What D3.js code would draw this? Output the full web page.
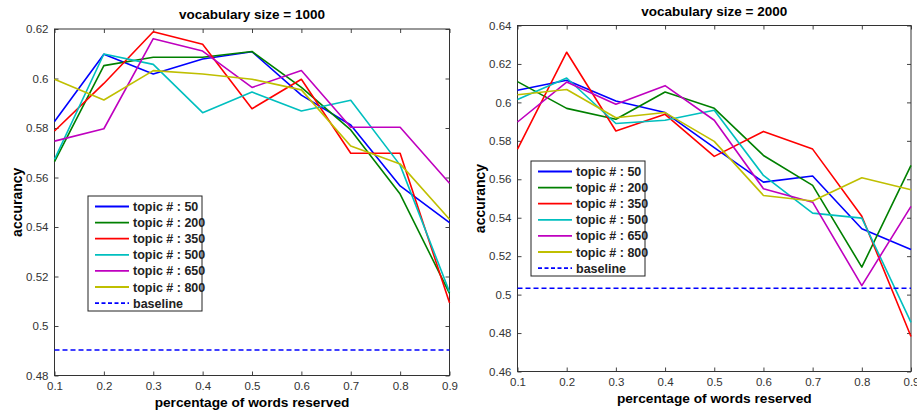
<!DOCTYPE html>
<html lang='en'>
<head>
<meta charset='utf-8'>
<title>accuracy vs percentage of words reserved</title>
<script src='https://d3js.org/d3.v7.min.js'></script>
<style>
  body { margin: 0; background: #fff; }
  text { font-family: Arial, 'Liberation Sans', sans-serif; }
</style>
</head>
<body>
<script>
'use strict'

// shared x values and legend labels
const reserved = [0.1, 0.2, 0.3, 0.4, 0.5, 0.6, 0.7, 0.8, 0.9]
const topicLabels = ['topic # : 50', 'topic # : 200', 'topic # : 350', 'topic # : 500', 'topic # : 650', 'topic # : 800']
const colors = ['#0000ff', '#008000', '#ff0000', '#00bfbf', '#bf00bf', '#bfbf00']

// vocabulary size = 1000
const v1000_t50  = [0.5826, 0.6098, 0.6018, 0.6079, 0.6108, 0.5933, 0.5812, 0.5566, 0.5418]
const v1000_t200 = [0.5664, 0.6052, 0.6086, 0.6086, 0.6109, 0.5964, 0.5792, 0.5533, 0.5132]
const v1000_t350 = [0.5788, 0.5980, 0.6189, 0.6138, 0.5878, 0.5997, 0.5698, 0.5698, 0.5094]
const v1000_t500 = [0.5673, 0.6099, 0.6057, 0.5862, 0.5945, 0.5869, 0.5912, 0.5650, 0.5138]
const v1000_t650 = [0.5747, 0.5797, 0.6161, 0.6111, 0.5964, 0.6032, 0.5803, 0.5803, 0.5577]
const v1000_t800 = [0.5997, 0.5913, 0.6032, 0.6018, 0.5997, 0.5954, 0.5727, 0.5655, 0.5431]
const v1000_baseline = 0.4903
const v1000_yTicks = [0.48, 0.5, 0.52, 0.54, 0.56, 0.58, 0.6, 0.62]

// vocabulary size = 2000
const v2000_t50  = [0.6063, 0.6115, 0.6007, 0.5947, 0.5765, 0.5585, 0.5617, 0.5343, 0.5235]
const v2000_t200 = [0.6108, 0.5969, 0.5912, 0.6054, 0.5969, 0.5724, 0.5568, 0.5143, 0.5672]
const v2000_t350 = [0.5757, 0.6261, 0.5851, 0.5938, 0.5719, 0.5849, 0.5757, 0.5408, 0.4782]
const v2000_t500 = [0.6015, 0.6127, 0.5890, 0.5907, 0.5959, 0.5620, 0.5424, 0.5398, 0.4856]
const v2000_t650 = [0.5898, 0.6106, 0.5990, 0.6087, 0.5907, 0.5551, 0.5481, 0.5047, 0.5459]
const v2000_t800 = [0.6040, 0.6067, 0.5920, 0.5947, 0.5797, 0.5516, 0.5487, 0.5608, 0.5546]
const v2000_baseline = 0.5033
const v2000_yTicks = [0.46, 0.48, 0.5, 0.52, 0.54, 0.56, 0.58, 0.6, 0.62, 0.64]

const xTicks = [0.1, 0.2, 0.3, 0.4, 0.5, 0.6, 0.7, 0.8, 0.9]

const svg = d3.select('body').append('svg')
  .attr('width', 917)
  .attr('height', 412)

svg.append('rect').attr('width', '100%').attr('height', '100%').attr('fill', '#fff')

const fmt = d => String(+d.toFixed(2))

function drawPanel(p)
{
  const g = svg.append('g')
  const x = d3.scaleLinear().domain([0.1, 0.9]).range([p.left, p.right])
  const y = d3.scaleLinear().domain([p.yTicks[0], p.yTicks[p.yTicks.length - 1]]).range([p.bottom, p.top])

  // axes, ticks pointing inward on all four sides
  g.append('g').attr('transform', `translate(0,${p.bottom})`)
    .call(d3.axisBottom(x).tickValues(xTicks).tickSizeInner(-4).tickSizeOuter(0).tickPadding(6).tickFormat(fmt))
  g.append('g').attr('transform', `translate(0,${p.top})`)
    .call(d3.axisTop(x).tickValues(xTicks).tickSizeInner(-4).tickSizeOuter(0).tickFormat(''))
  g.append('g').attr('transform', `translate(${p.left},0)`)
    .call(d3.axisLeft(y).tickValues(p.yTicks).tickSizeInner(-4).tickSizeOuter(0).tickPadding(6).tickFormat(fmt))
  g.append('g').attr('transform', `translate(${p.right},0)`)
    .call(d3.axisRight(y).tickValues(p.yTicks).tickSizeInner(-4).tickSizeOuter(0).tickFormat(''))
  g.selectAll('.domain').remove()
  g.selectAll('.tick line').attr('stroke', '#444')
  g.selectAll('.tick text').attr('font-size', 11.5).attr('fill', '#333')

  g.append('rect')
    .attr('x', p.left).attr('y', p.top)
    .attr('width', p.right - p.left).attr('height', p.bottom - p.top)
    .attr('fill', 'none').attr('stroke', '#333').attr('stroke-width', 1)

  const line = d3.line()
    .x((d, i) => x(reserved[i]))
    .y(d => y(d))

  p.series.forEach((s, i) => {
    g.append('path')
      .attr('d', line(s))
      .attr('fill', 'none')
      .attr('stroke', colors[i])
      .attr('stroke-width', 1.6)
      .attr('stroke-linejoin', 'round')
  })

  g.append('line')
    .attr('x1', p.left).attr('x2', p.right)
    .attr('y1', y(p.baseline)).attr('y2', y(p.baseline))
    .attr('stroke', '#0000ff').attr('stroke-width', 1.6)
    .attr('stroke-dasharray', '5,3')

  // titles and labels
  const cx = (p.left + p.right) / 2
  g.append('text').attr('x', cx).attr('y', p.top - 10)
    .attr('text-anchor', 'middle').attr('font-size', 13.5).attr('font-weight', 'bold')
    .text(p.title)
  g.append('text').attr('x', cx).attr('y', p.bottom + 31)
    .attr('text-anchor', 'middle').attr('font-size', 13.7).attr('font-weight', 'bold')
    .text('percentage of words reserved')
  g.append('text')
    .attr('transform', `translate(${p.left - 33},${(p.top + p.bottom) / 2}) rotate(-90)`)
    .attr('text-anchor', 'middle').attr('font-size', 14).attr('font-weight', 'bold')
    .text('accurancy')

  // legend
  const lg = g.append('g').attr('transform', `translate(${p.legendX},${p.legendY})`)
  lg.append('rect').attr('width', 114).attr('height', 115)
    .attr('fill', '#fff').attr('stroke', '#222').attr('stroke-width', 1)
  const entries = topicLabels.concat(['baseline'])
  entries.forEach((label, i) => {
    const ry = 10.5 + i * 16.1
    lg.append('line')
      .attr('x1', 7).attr('x2', 41).attr('y1', ry).attr('y2', ry)
      .attr('stroke', i < 6 ? colors[i] : '#0000ff')
      .attr('stroke-width', 1.8)
      .attr('stroke-dasharray', i < 6 ? null : '4,2.5')
    lg.append('text').attr('x', 45).attr('y', ry + 4.5)
      .attr('font-size', 12.5).attr('font-weight', 'bold').attr('fill', '#222')
      .text(label)
  })
}

drawPanel({
  title: 'vocabulary size = 1000',
  left: 54.5, right: 449.5, top: 29, bottom: 375.5,
  yTicks: v1000_yTicks,
  series: [v1000_t50, v1000_t200, v1000_t350, v1000_t500, v1000_t650, v1000_t800],
  baseline: v1000_baseline,
  legendX: 88, legendY: 196
})

drawPanel({
  title: 'vocabulary size = 2000',
  left: 517.5, right: 911, top: 25.5, bottom: 371.5,
  yTicks: v2000_yTicks,
  series: [v2000_t50, v2000_t200, v2000_t350, v2000_t500, v2000_t650, v2000_t800],
  baseline: v2000_baseline,
  legendX: 531, legendY: 161
})
</script>
</body>
</html>
